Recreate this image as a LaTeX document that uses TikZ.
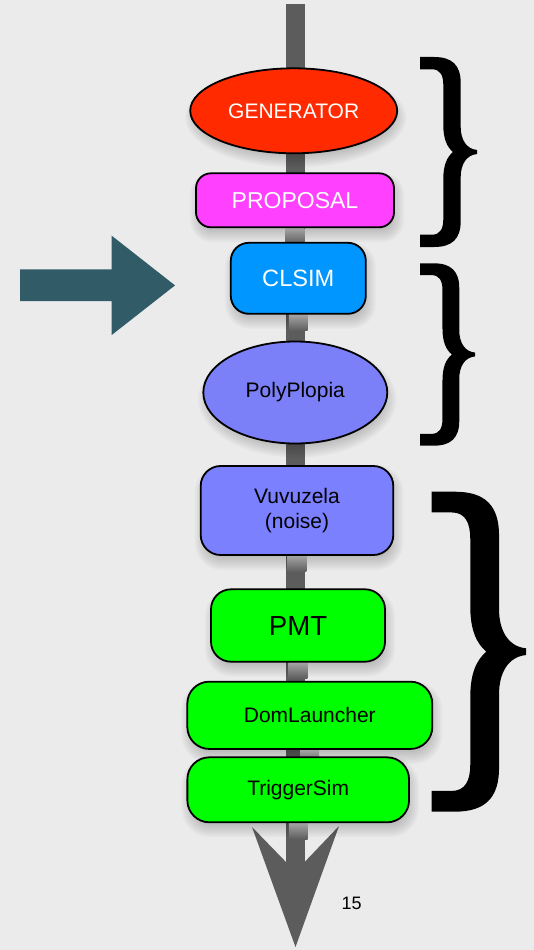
\documentclass[tikz,border=0pt]{standalone}
\usepackage{fontspec}
\setmainfont{Liberation Sans}
\usetikzlibrary{shapes.geometric,calc}

\definecolor{bgcol}{HTML}{EBEBEB}
\definecolor{barcol}{HTML}{5C5C5C}
\definecolor{barlight}{HTML}{A4A4A4}
\definecolor{genred}{HTML}{FF2A00}
\definecolor{propmag}{HTML}{FF40FF}
\definecolor{clsimblue}{HTML}{0096FF}
\definecolor{polyblue}{HTML}{7B80F8}
\definecolor{vuvublue}{HTML}{7B80FF}
\definecolor{pmtgreen}{HTML}{00FF00}
\definecolor{arrowteal}{HTML}{315C67}

\pgfdeclarelayer{back}
\pgfsetlayers{back,main}

\tikzset{
  stage/.style={draw=black, line width=1.8pt, inner sep=0pt, align=center},
  oval/.style={stage, ellipse},
  rbox/.style={stage, rectangle, rounded corners=#1},
  rbox/.default=18pt,
  fs/.style={font=\fontsize{#1}{30}\selectfont},
  softshade/.style={black, opacity=0.028},
  curly/.pic={
    \fill[black] (0,0) -- (14,0) .. controls (32,0) and (40.7,8) .. (40.7,26)
      -- (40.7,70) .. controls (40.7,82) and (46,92) .. (57,93)
      -- (57,97) .. controls (46,98) and (40.7,108) .. (40.7,120)
      -- (40.7,164) .. controls (40.7,182) and (32,190) .. (14,190)
      -- (0,190) -- (0,177.7) -- (12,177.7)
      .. controls (20,177.7) and (23.3,172) .. (23.3,162)
      -- (23.3,122) .. controls (23.3,108) and (27,100) .. (33,95)
      .. controls (27,90) and (23.3,82) .. (23.3,68)
      -- (23.3,28) .. controls (23.3,18) and (20,12.3) .. (12,12.3)
      -- (0,12.3) -- cycle;
  },
  underglow/.style={top color=barlight, bottom color=barcol},
}

\begin{document}
\begin{tikzpicture}[x=1pt, y=-1pt]
  % canvas
  \begin{pgfonlayer}{back}
    \fill[bgcol] (0,0) rectangle (534,950);
  \end{pgfonlayer}
  \useasboundingbox (0,0) rectangle (534,950);

  % pipeline stages
  \node[oval, fill=genred, text=white, minimum width=207pt, minimum height=85pt, fs=21]
    (gen) at (293.7,110.8) {GENERATOR};
  \node[rbox=15pt, fill=propmag, text=white, minimum width=198pt, minimum height=54pt, fs=23]
    (prop) at (295,200.3) {PROPOSAL};
  \node[rbox=18pt, fill=clsimblue, text=white, minimum width=135pt, minimum height=71pt, fs=23.6]
    (clsim) at (298.3,278.3) {CLSIM};
  \node[oval, fill=polyblue, minimum width=184pt, minimum height=102pt, fs=21]
    (poly) at (295.3,392.5) {PolyPlopia};
  \node[rbox=20pt, fill=vuvublue, minimum width=192.6pt, minimum height=89pt,
        font=\fontsize{21}{25}\selectfont]
    (vuvu) at (297,510.5) {Vuvuzela\\(noise)};
  \node[rbox=20pt, fill=pmtgreen, minimum width=174pt, minimum height=72.4pt, fs=27.6]
    (pmt) at (298,625.5) {PMT};
  \node[rbox=22pt, fill=pmtgreen, minimum width=245pt, minimum height=67.3pt, fs=21]
    (dom) at (309.8,715.3) {DomLauncher};
  \node[rbox=22pt, fill=pmtgreen, minimum width=221.7pt, minimum height=65pt, fs=21]
    (trig) at (298.2,789.8) {TriggerSim};

  % flow bar with its head, behind the stages
  \coordinate (bartop) at (295.3,4);
  \coordinate (notch) at (295.3,862);
  \coordinate (tip) at (295.5,947);
  \begin{pgfonlayer}{back}
    \fill[barcol] ($(bartop)+(-9.35,0)$) rectangle ($(notch)+(9.35,0)$);
    \fill[barcol] (252,827) -- (tip) -- (339,826) -- ($(notch)+(9.35,0)$)
      -- ($(notch)+(-9.35,0)$) -- cycle;
    % soft shadows under the stages
    \foreach \i in {0,...,7}{
      \pgfmathsetmacro{\g}{7-2*\i}
      \fill[softshade] ($(gen.center)+(2,7)$) ellipse [x radius=103.5+\g, y radius=42.5+\g];
      \fill[softshade] ($(poly.center)+(2,7)$) ellipse [x radius=92+\g, y radius=51+\g];
      \foreach \s/\r in {prop/15,clsim/18,vuvu/20,pmt/20,dom/22,trig/22}{
        \pgfmathsetmacro{\rr}{max(\r+\g,2)}
        \fill[softshade, rounded corners=\rr pt]
          ($(\s.south west)+(2-\g,7+\g)$) rectangle ($(\s.north east)+(2+\g,7-\g)$);
      }
    }
    % lighter stretch of the bar just below each box
    \foreach \s in {prop,clsim,vuvu,pmt,dom,trig}{
      \shade[underglow] ($(\s.south)+(-9.35,0)$) rectangle ($(\s.south)+(9.35,16)$);
    }
  \end{pgfonlayer}

  % grouping braces
  \pic[shift={(420,57)}] {curly};
  \pic[shift={(420,263.3)}, xscale=0.965, yscale=0.96] {curly};
  \pic[shift={(431.7,491.7)}, xscale=1.655, yscale=1.684] {curly};

  % pointer arrow
  \fill[arrowteal] (20,269.3) -- (111.7,269.3) -- (111.7,235.7) -- (175,285.4)
    -- (111.7,335) -- (111.7,301) -- (20,301) -- cycle;

  % page number
  \node[fs=18, inner sep=0pt] (pagenum) at (351.7,903.3) {15};
\end{tikzpicture}
\end{document}
